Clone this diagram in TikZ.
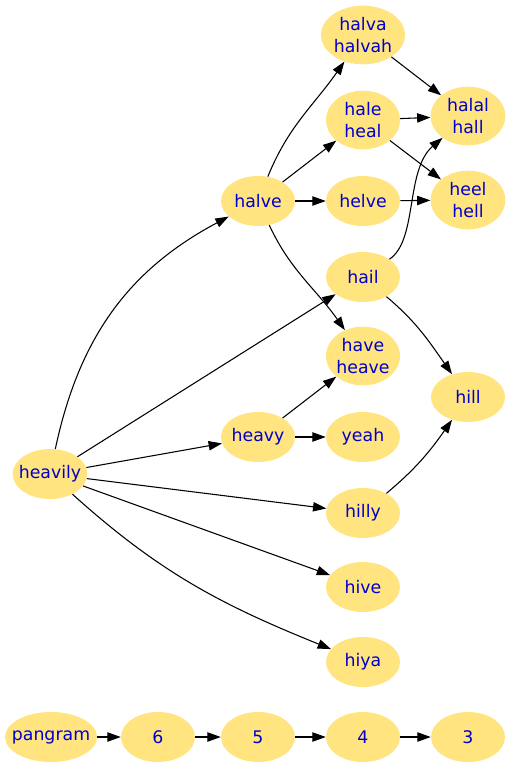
\documentclass[tikz,border=0pt]{standalone}
\usepackage{fontspec}
\setmainfont{DejaVu Sans}
\usetikzlibrary{shapes.geometric,arrows.meta}
\definecolor{nodefill}{RGB}{255,228,127}
\definecolor{nodetext}{RGB}{0,0,205}
\tikzset{
  wnode/.style={ellipse,fill=nodefill,draw=none,inner ysep=0pt,inner xsep=-8pt,
    minimum width=55.5pt,minimum height=37.5pt,text=nodetext,
    font=\fontsize{13}{16.3}\selectfont,align=center},
  wtwo/.style={wnode,minimum height=44pt},
  edge/.style={draw=black,line width=0.8pt,-{Triangle[length=10pt,width=7pt]}}
}
\begin{document}
\begin{tikzpicture}[x=0.75pt,y=-0.75pt]
\useasboundingbox (0,0) rectangle (512,768);
\node[wtwo,minimum width=63pt] (halva) at (363,35) {halva\\halvah};
\node[wtwo] (hale) at (363,120) {hale\\heal};
\node[wtwo,minimum width=56pt] (halal) at (468,116) {halal\\hall};
\node[wnode] (helve) at (363,201) {helve};
\node[wtwo,minimum width=56pt] (heel) at (468,200) {heel\\hell};
\node[wnode] (halve) at (258,201) {halve};
\node[wnode] (hail) at (363,277) {hail};
\node[wtwo] (have) at (363,356) {have\\heave};
\node[wnode] (hill) at (468,397) {hill};
\node[wnode] (heavy) at (258,437) {heavy};
\node[wnode] (yeah) at (363,437) {yeah};
\node[wnode,minimum width=56pt] (heavily) at (50,474) {heavily};
\node[wnode] (hilly) at (363,513) {hilly};
\node[wnode] (hive) at (363,587) {hive};
\node[wnode] (hiya) at (363,662) {hiya};
\node[wnode,minimum width=69pt] (pangram) at (51,737) {pangram};
\node[wnode] (n6) at (158,737) {6};
\node[wnode] (n5) at (258,737) {5};
\node[wnode] (n4) at (363,737) {4};
\node[wnode] (n3) at (468,737) {3};

\draw[edge] (heavily) to[out=78,in=208] (halve);
\draw[edge] (heavily) -- (hail);
\draw[edge] (heavily) -- (heavy);
\draw[edge] (heavily) -- (hilly);
\draw[edge] (heavily) -- (hive);
\draw[edge] (heavily) to[out=-42,in=158] (hiya);
\draw[edge] (halve) to[out=68,in=235] (halva);
\draw[edge] (halve) -- (hale);
\draw[edge] (halve) -- (helve);
\draw[edge] (halve) to[out=-65,in=125] (have);
\draw[edge] (halva) -- (halal);
\draw[edge] (hale) -- (halal);
\draw[edge] (hale) -- (heel);
\draw[edge] (helve) -- (heel);
\draw[edge] (hail) .. controls (418,240) and (405,170) .. (halal);
\draw[edge] (hail) to[out=-40,in=125] (hill);
\draw[edge] (hilly) to[out=40,in=235] (hill);
\draw[edge] (heavy) -- (have);
\draw[edge] (heavy) -- (yeah);
\draw[edge] (pangram) -- (n6);
\draw[edge] (n6) -- (n5);
\draw[edge] (n5) -- (n4);
\draw[edge] (n4) -- (n3);
\end{tikzpicture}
\end{document}
